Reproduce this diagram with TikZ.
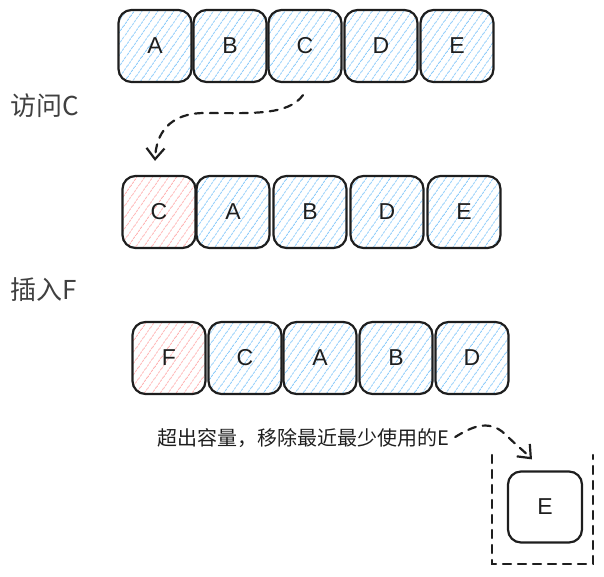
\documentclass[tikz,border=0pt]{standalone}
\usepackage{fontspec}
\setmainfont{Liberation Sans}
\newfontfamily\cjk{Noto Sans CJK SC}
\usetikzlibrary{patterns.meta,arrows.meta,calc}
\definecolor{hblue}{HTML}{8CCBFA}
\definecolor{hred}{HTML}{FFB3B3}
\definecolor{ink}{HTML}{1E1E1E}
\tikzset{
  cell/.style={draw=ink, line width=2.2pt, rounded corners=13pt,
    minimum width=73pt, minimum height=72pt, inner sep=0pt,
    font=\fontsize{23}{23}\selectfont, text=ink},
  bluecell/.style={cell, pattern={Lines[angle=55,distance=6.5pt,line width=0.9pt]}, pattern color=hblue},
  redcell/.style={cell, pattern={Lines[angle=55,distance=6.5pt,line width=0.9pt]}, pattern color=hred},
  plaincell/.style={cell},
  title/.style={anchor=west, inner sep=0pt, font=\cjk\fontsize{26}{26}\selectfont, text=ink!85},
  note/.style={anchor=west, inner sep=0pt, font=\cjk\fontsize{20}{20}\selectfont, text=ink},
  dashline/.style={draw=ink, line width=2.2pt, dash pattern=on 8pt off 7pt, line cap=round},
  flow/.style={dashline, -{Straight Barb[length=11pt,width=18pt,line width=2.2pt]}},
}
\begin{document}
\begin{tikzpicture}[x=1pt,y=-1pt]
\useasboundingbox (0,0) rectangle (604,576);
% row 1
\node[bluecell] (r1a) at (155,46) {A};
\node[bluecell] (r1b) at (230,46) {B};
\node[bluecell] (r1c) at (305,46) {C};
\node[bluecell] (r1d) at (381,46) {D};
\node[bluecell] (r1e) at (457,46) {E};
% label 1
\node[title] (l1) at (10,106) {访问C};
% row 2
\node[redcell] (r2c) at (159,212) {C};
\node[bluecell] (r2a) at (233,212) {A};
\node[bluecell] (r2b) at (310,212) {B};
\node[bluecell] (r2d) at (387,212) {D};
\node[bluecell] (r2e) at (464,212) {E};
% label 2
\node[title] (l2) at (10,290) {插入F};
% row 3
\node[redcell] (r3f) at (169,358) {F};
\node[bluecell] (r3c) at (245,358) {C};
\node[bluecell] (r3a) at (320,358) {A};
\node[bluecell] (r3b) at (396,358) {B};
\node[bluecell] (r3d) at (472,358) {D};
% note
\node[note] (nt) at (157,438) {超出容量，移除最近最少使用的E};
% evicted E
\node[plaincell, minimum width=74pt, minimum height=71pt] (ev) at (545,507) {E};
\draw[dashline] (492,455) -- (492,564) -- (593,564) -- (593,455);
% arrows
\coordinate (a1s) at ($(r1c.south)+(-2,12)$);
\coordinate (a1e) at ($(r2c.north)+(-4,-14)$);
\draw[flow] (a1s) .. controls (288,116) and (250,113) .. (205,113)
  .. controls (168,113) and (156,135) .. (a1e);
\coordinate (a2s) at ($(nt.east)+(6,-1)$);
\coordinate (a2e) at ($(ev.north)+(-13,-11)$);
\draw[flow] (a2s) .. controls (470,428) and (488,418) .. (505,434)
  .. controls (515,444) and (525,452) .. (a2e);
\end{tikzpicture}
\end{document}
